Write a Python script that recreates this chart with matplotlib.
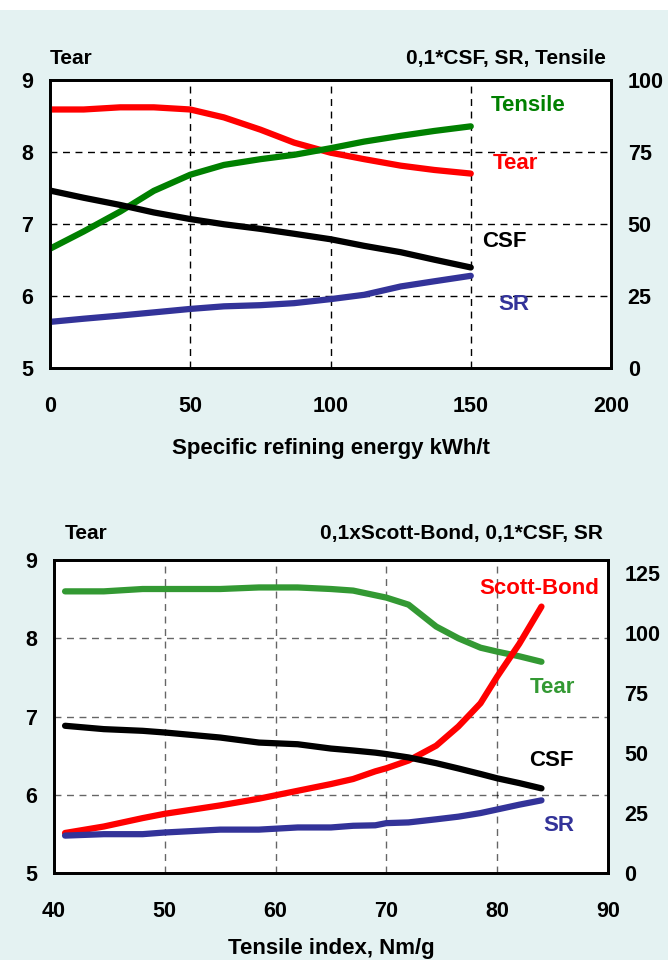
import numpy as np
import matplotlib.pyplot as plt
from matplotlib.patches import Rectangle

plt.rcParams['font.family'] = ['Liberation Sans', 'DejaVu Sans']
plt.rcParams['font.weight'] = 'bold'

# ---- top chart: refining energy ----
energy = [0, 12, 25, 37, 50, 62, 75, 87, 100, 112, 125, 137, 150]  # kWh/t
tear_top = [8.59, 8.59, 8.62, 8.62, 8.59, 8.48, 8.31, 8.13, 7.99, 7.90, 7.81, 7.75, 7.70]
tensile_top = [41.4, 47.4, 54.3, 61.5, 67.1, 70.5, 72.5, 74.0, 76.3, 78.6, 80.6, 82.3, 83.9]
csf_top = [61.6, 59.1, 56.6, 54.0, 51.7, 49.9, 48.3, 46.6, 44.7, 42.4, 40.2, 37.6, 34.9]
sr_top = [16.0, 17.1, 18.2, 19.3, 20.5, 21.4, 21.8, 22.5, 23.9, 25.4, 28.3, 30.1, 32.0]

# ---- bottom chart: tensile index ----
tens_idx = [41, 44.5, 48, 50, 55, 58.5, 62, 65, 67, 69, 70, 72, 74.5, 76.5, 78.5, 80, 82, 84]
tear_bot = [8.60, 8.60, 8.63, 8.63, 8.63, 8.65, 8.65, 8.63, 8.61, 8.55, 8.52, 8.43, 8.15, 8.00, 7.88, 7.83, 7.77, 7.70]
scott_bot = [16.7, 19.4, 22.9, 24.7, 28.2, 31.0, 34.3, 37.1, 39.2, 42.4, 43.7, 46.9, 53.1, 61.1, 70.8, 81.9, 95.6, 111.1]
csf_bot = [61.4, 60.0, 59.3, 58.6, 56.5, 54.4, 53.7, 51.9, 51.1, 50.2, 49.6, 48.2, 45.8, 43.6, 41.3, 39.5, 37.5, 35.3]
sr_bot = [15.6, 16.2, 16.2, 16.9, 18.1, 18.1, 19.0, 19.0, 19.7, 19.9, 20.8, 21.1, 22.4, 23.5, 25.0, 26.5, 28.5, 30.3]

RED = '#ff0000'
GREEN = '#008000'
GREEN2 = '#339933'
BLUE = '#333399'
BG = '#e4f2f2'

fig = plt.figure(figsize=(6.68, 9.6), dpi=100)
fig.patch.set_facecolor(BG)
fig.patches.append(Rectangle((0, 1 - 10 / 960), 1, 10 / 960, transform=fig.transFigure,
                             facecolor='white', edgecolor='none', zorder=0))

lw = 4.5
fs = 15.5   # tick labels
hfs = 15    # axis headers
lfs = 16    # series labels


def style_axes(ax, ax2):
    for a in (ax, ax2):
        for s in a.spines.values():
            s.set_linewidth(2)
        a.tick_params(length=0, labelsize=fs)
        a.tick_params(axis='y', pad=12)
    ax.tick_params(axis='x', pad=20)
    ax.set_facecolor('white')


# ---- top ----
ax = fig.add_axes([0.0749, 0.6167, 0.8398, 0.3])
ax2 = ax.twinx()
ax.set_xlim(0, 200)
ax.set_ylim(5, 9)
ax2.set_ylim(0, 100)
ax.set_xticks([0, 50, 100, 150, 200])
ax.set_yticks([5, 6, 7, 8, 9])
ax2.set_yticks([0, 25, 50, 75, 100])
for x in [50, 100, 150]:
    ax.axvline(x, color='black', lw=1, ls=(0, (5, 4)), zorder=1)
for y in [6, 7, 8]:
    ax.axhline(y, color='black', lw=1, ls=(0, (5, 4)), zorder=1)
ax.plot(energy, tear_top, color=RED, lw=lw, solid_capstyle='round', zorder=3)
ax2.plot(energy, tensile_top, color=GREEN, lw=lw, solid_capstyle='round')
ax2.plot(energy, csf_top, color='black', lw=lw, solid_capstyle='round')
ax2.plot(energy, sr_top, color=BLUE, lw=lw, solid_capstyle='round')
style_axes(ax, ax2)
ax.set_xlabel('Specific refining energy kWh/t', fontsize=lfs, fontweight='bold', labelpad=15)
ax.text(0.0, 1.075, 'Tear', transform=ax.transAxes, fontsize=hfs, fontweight='bold', va='center')
ax.text(0.99, 1.075, '0,1*CSF, SR, Tensile', transform=ax.transAxes, fontsize=hfs,
        fontweight='bold', va='center', ha='right')
ax2.text(157, 91, 'Tensile', color=GREEN, fontsize=lfs, fontweight='bold', va='center')
ax2.text(158, 71, 'Tear', color=RED, fontsize=lfs, fontweight='bold', va='center')
ax2.text(154, 44, 'CSF', color='black', fontsize=lfs, fontweight='bold', va='center')
ax2.text(160, 22, 'SR', color=BLUE, fontsize=lfs, fontweight='bold', va='center')

# ---- bottom ----
bx = fig.add_axes([0.0808, 0.0906, 0.8293, 0.326])
bx2 = bx.twinx()
bx.set_xlim(40, 90)
bx.set_ylim(5, 9)
bx2.set_ylim(0, 130.5)
bx.set_xticks([40, 50, 60, 70, 80, 90])
bx.set_yticks([5, 6, 7, 8, 9])
bx2.set_yticks([0, 25, 50, 75, 100, 125])
for x in [50, 60, 70, 80]:
    bx.axvline(x, color='black', lw=1, ls=(0, (5, 4)), alpha=0.6, zorder=1)
for y in [6, 7, 8]:
    bx.axhline(y, color='black', lw=1, ls=(0, (5, 4)), alpha=0.6, zorder=1)
bx.plot(tens_idx, tear_bot, color=GREEN2, lw=lw, solid_capstyle='round', zorder=3)
bx2.plot(tens_idx, scott_bot, color=RED, lw=lw, solid_capstyle='round')
bx2.plot(tens_idx, csf_bot, color='black', lw=lw, solid_capstyle='round')
bx2.plot(tens_idx, sr_bot, color=BLUE, lw=lw, solid_capstyle='round')
style_axes(bx, bx2)
bx.set_xlabel('Tensile index, Nm/g', fontsize=lfs, fontweight='bold', labelpad=12)
bx.text(0.02, 1.085, 'Tear', transform=bx.transAxes, fontsize=hfs, fontweight='bold', va='center')
bx.text(0.99, 1.085, '0,1xScott-Bond, 0,1*CSF, SR', transform=bx.transAxes, fontsize=hfs,
        fontweight='bold', va='center', ha='right')
bx2.text(89.2, 118.8, 'Scott-Bond', color=RED, fontsize=lfs, fontweight='bold', va='center', ha='right')
bx2.text(84.95, 77.5, 'Tear', color=GREEN2, fontsize=lfs, fontweight='bold', va='center', ha='center')
bx2.text(84.85, 47.1, 'CSF', color='black', fontsize=lfs, fontweight='bold', va='center', ha='center')
bx2.text(85.6, 20.0, 'SR', color=BLUE, fontsize=lfs, fontweight='bold', va='center', ha='center')

plt.savefig('out.png', dpi=100, facecolor=fig.get_facecolor())
